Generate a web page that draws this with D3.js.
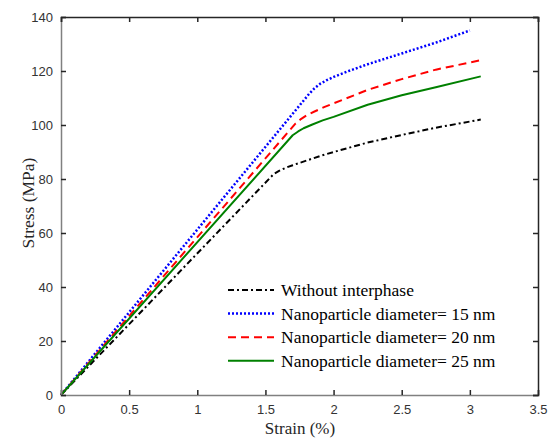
<!DOCTYPE html>
<html><head><meta charset="utf-8">
<script src="https://cdn.jsdelivr.net/npm/d3@7"></script>
<style>body{margin:0;background:#fff}</style>
</head><body><svg id="c" width="548" height="438"></svg>
<script>
const xTicks = [0,0.5,1,1.5,2,2.5,3,3.5];
const yTicks = [0,20,40,60,80,100,120,140];
const seriesNames = ["Without interphase","Nanoparticle diameter= 15 nm","Nanoparticle diameter= 20 nm","Nanoparticle diameter= 25 nm"];
const strainBlack = [0,1.56,1.6,1.65,1.7,1.8,1.9,2.0,2.25,2.5,2.75,3.08];
const stressBlack = [0,81.8,83,84.2,85.1,86.8,88.5,90,93.5,96.3,99,102];
const strain15 = [0,1.82,1.86,1.9,1.95,2.0,2.1,2.25,2.5,2.75,3.0];
const stress15 = [0,111.5,113.6,115.2,116.6,117.8,119.8,122.5,126.5,130.5,135];
const strain20 = [0,1.72,1.76,1.8,1.86,1.93,2.0,2.25,2.5,2.75,3.08];
const stress20 = [0,100.5,102.2,103.5,105,106.6,108,113,117,120.5,124];
const strain25 = [0,1.7,1.74,1.78,1.84,1.92,2.0,2.25,2.5,2.75,3.08];
const stress25 = [0,96.2,97.6,98.8,100.1,101.7,103,107.5,111,114,118];

const svg = d3.select("#c");
const L=61,R=538,T=17,B=395;
const x = d3.scaleLinear().domain([0,3.5]).range([L,R]);
const y = d3.scaleLinear().domain([0,140]).range([B,T]);

const series = [
  {xs:strainBlack, ys:stressBlack, color:"#000", dash:"6,3,2,3", w:2},
  {xs:strain15, ys:stress15, color:"#0000ff", dash:"2,2", w:2.5},
  {xs:strain20, ys:stress20, color:"#ff0000", dash:"8,5", w:2},
  {xs:strain25, ys:stress25, color:"#008000", dash:null, w:2}
];
const line = d3.line().x(d=>x(d[0])).y(d=>y(d[1])).curve(d3.curveLinear);
series.forEach(s=>{
  const pts = s.xs.map((v,i)=>[v,s.ys[i]]);
  svg.append("path").attr("d",line(pts)).attr("fill","none")
    .attr("stroke",s.color).attr("stroke-width",s.w)
    .attr("stroke-dasharray",s.dash).attr("stroke-linejoin","round");
});

// axes
const fontT = "'Liberation Sans', Arial, sans-serif";
const gB = svg.append("g").attr("transform",`translate(0,${B})`)
  .call(d3.axisBottom(x).tickValues(xTicks).tickSize(-5).tickPadding(10).tickFormat(d3.format("")));
const gL = svg.append("g").attr("transform",`translate(${L},0)`)
  .call(d3.axisLeft(y).tickValues(yTicks).tickSize(-5).tickPadding(8));
const gT = svg.append("g").attr("transform",`translate(0,${T})`)
  .call(d3.axisTop(x).tickValues(xTicks).tickSize(-5).tickFormat(""));
const gR = svg.append("g").attr("transform",`translate(${R},0)`)
  .call(d3.axisRight(y).tickValues(yTicks).tickSize(-5).tickFormat(""));
[gB,gL].forEach(g=>{
  g.select(".domain").attr("stroke","#808080").attr("stroke-width",1.5);
  g.selectAll(".tick line").attr("stroke","#262626").attr("stroke-width",1.5);
  g.selectAll("text").attr("font-family",fontT).attr("font-size",13).attr("fill","#333");
});
[gT,gR].forEach(g=>{
  g.select(".domain").attr("stroke","#262626").attr("stroke-width",1.5);
  g.selectAll(".tick line").attr("stroke","#262626").attr("stroke-width",1.5);
});

const serif = "'Liberation Serif','Times New Roman',serif";
svg.append("text").attr("x",300).attr("y",434).attr("text-anchor","middle")
  .attr("font-family",serif).attr("font-size",17).attr("fill","#262626").text("Strain (%)");
svg.append("text").attr("transform",`translate(34,203) rotate(-90)`).attr("text-anchor","middle")
  .attr("font-family",serif).attr("font-size",17.5).attr("fill","#262626").text("Stress (MPa)");

// legend
const lg = svg.append("g");
series.forEach((s,i)=>{
  const yy = 290 + i*23.6;
  lg.append("line").attr("x1",228).attr("x2",274).attr("y1",yy).attr("y2",yy)
    .attr("stroke",s.color).attr("stroke-width",s.w).attr("stroke-dasharray",s.dash);
  lg.append("text").attr("x",281).attr("y",yy+6).attr("font-family",serif).attr("font-size",17.5)
    .attr("fill","#000").text(seriesNames[i]);
});
</script></body></html>
